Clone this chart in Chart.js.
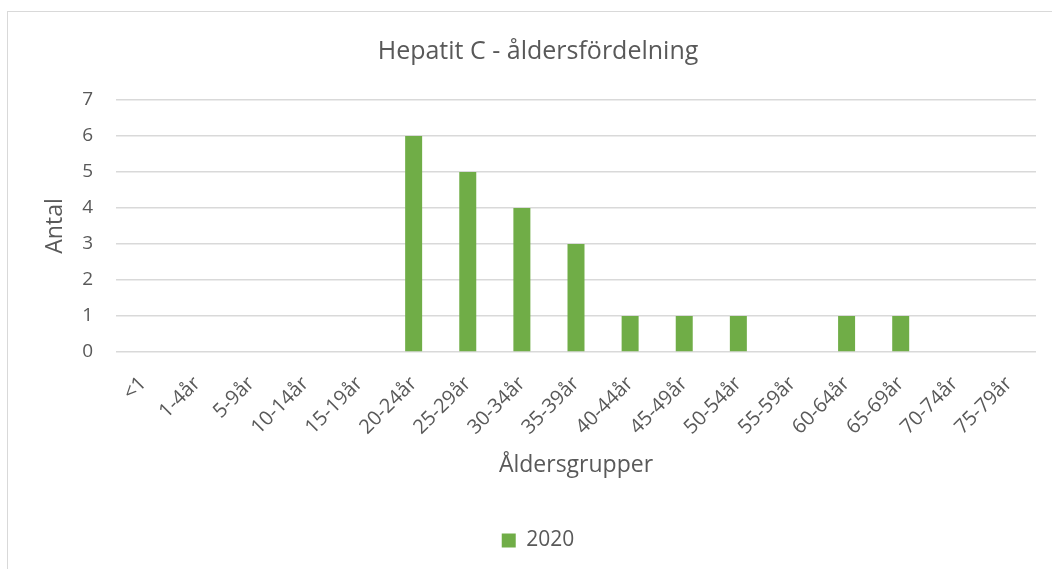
<!DOCTYPE html>
<html>
<head>
<meta charset="utf-8">
<script src="https://cdn.jsdelivr.net/npm/chart.js@4/dist/chart.umd.min.js"></script>
<style>
  html, body { margin: 0; padding: 0; background: #fff; overflow: hidden; }
  #frame { position: absolute; left: 7px; top: 11px; width: 1200px; height: 700px; border: 1px solid #d9d9d9; }
  #wrap { position: absolute; left: 0; top: 0; width: 1076px; height: 569px; }
</style>
</head>
<body>
<div id="frame"></div>
<div id="wrap"><canvas id="chart" width="1076" height="569"></canvas></div>
<script>
/* Hepatit C — åldersfördelning */
const categories = ['<1', '1-4år', '5-9år', '10-14år', '15-19år', '20-24år', '25-29år', '30-34år',
  '35-39år', '40-44år', '45-49år', '50-54år', '55-59år', '60-64år', '65-69år', '70-74år', '75-79år'];
const antal2020 = [0, 0, 0, 0, 0, 6, 5, 4, 3, 1, 1, 1, 0, 1, 1, 0, 0];
const yTicks = [0, 1, 2, 3, 4, 5, 6, 7];

const FONT = '"Open Sans", sans-serif';
const GREY = '#595959';

// the original chart is wider than the visible crop: the canvas runs past the window,
// an empty right axis keeps the plot ending where the reference does
new Chart(document.getElementById('chart').getContext('2d'), {
  type: 'bar',
  data: {
    labels: categories,
    datasets: [{
      label: '2020', data: antal2020,
      backgroundColor: '#70ad47',
      barPercentage: 0.314, categoryPercentage: 1
    }]
  },
  options: {
    responsive: false, animation: false,
    layout: { padding: { left: 0, right: 0, top: 0, bottom: 8 } },
    plugins: {
      title: {
        display: true, text: 'Hepatit C - åldersfördelning',
        color: GREY, font: { family: FONT, size: 25, weight: 'normal' },
        padding: { top: 37, bottom: 33 }
      },
      legend: {
        position: 'bottom',
        labels: { color: GREY, font: { family: FONT, size: 21 }, boxWidth: 14, boxHeight: 14, padding: 10 }
      },
      tooltip: { enabled: false }
    },
    scales: {
      x: {
        grid: { display: false },
        border: { display: false },
        ticks: { color: GREY, font: { family: FONT, size: 20 }, minRotation: 45, maxRotation: 45, padding: 12 },
        title: { display: true, text: 'Åldersgrupper', color: GREY, font: { family: FONT, size: 23 }, padding: { top: 4, bottom: 41 } },
        afterFit: s => { s.height = 168; }
      },
      y: {
        min: 0, max: 7,
        afterBuildTicks: s => { s.ticks = yTicks.map(v => ({ value: v })); },
        grid: { color: '#d9d9d9', lineWidth: 1.5, drawTicks: false },
        border: { display: false },
        ticks: { color: GREY, font: { family: FONT, size: 19 }, padding: 23 },
        title: { display: true, text: 'Antal', color: GREY, font: { family: FONT, size: 23 }, padding: { top: 42, bottom: 0 } },
        afterFit: s => { s.width = 116; }
      },
      yRight: {
        position: 'right', min: 0, max: 7,
        grid: { display: false }, border: { display: false },
        ticks: { display: false },
        afterFit: s => { s.width = 40; }
      }
    }
  }
});
</script>
</body>
</html>
